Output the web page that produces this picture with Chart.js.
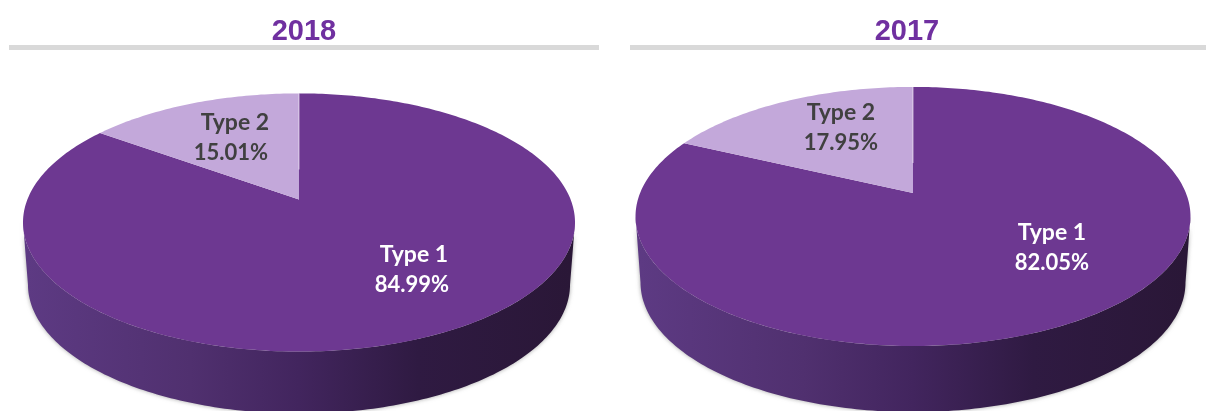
<!DOCTYPE html>
<html>
<head>
<meta charset="utf-8">
<script src="https://cdn.jsdelivr.net/npm/chart.js@4"></script>
<style>
  html, body { margin: 0; padding: 0; background: white; overflow: hidden; }
  #page { position: relative; width: 1206px; height: 411px; overflow: hidden; }
  .head { position: absolute; top: 0; height: 45px; border-bottom: 5px solid #d9d9d9; text-align: center;
    font: bold 29px "Liberation Sans", Arial, sans-serif; line-height: 60px; color: #7030a0; }
  .head.a { left: 9px; width: 590px; }
  .head.b { left: 630px; width: 576px; text-indent: -22px; }
  .box { position: absolute; top: 0; height: 411px; }
  .box.a { left: 0; width: 604px; }
  .box.b { left: 604px; width: 602px; }
</style>
</head>
<body>
<div id="page">
  <div class="box a"><canvas id="pie2018"></canvas></div>
  <div class="box b"><canvas id="pie2017"></canvas></div>
  <div class="head a" id="title2018"></div>
  <div class="head b" id="title2017"></div>
</div>
<script>
const categories = ['Type 1', 'Type 2'];
const values2018 = [84.99, 15.01];
const values2017 = [82.05, 17.95];
const years = ['2018', '2017'];

const sliceColors = ['#6d3891', '#c3a8da'];
const labelColors = ['#ffffff', '#404040'];

// perspective of the tilted disc, in px around the pie centre
function project(el, shape, angle, scale) {
    const u = Math.cos(angle), v = Math.sin(angle);
    const d = 1 - shape.k * v;
    return { x: el.x + scale * shape.b * u / d, y: el.y + shape.a * v / d };
}

function tracePath(ctx, el, shape, from, to, scale, dy) {
    const steps = Math.max(2, Math.ceil(Math.abs(to - from) * 60));
    for (let i = 0; i <= steps; i++) {
        const p = project(el, shape, from + (to - from) * i / steps, scale);
        ctx.lineTo(p.x, p.y + dy);
    }
}

const disc3d = {
    id: 'disc3d',
    beforeDatasetDraw: function (chart, args) {
        const shape = chart.options.plugins.disc3d;
        const arcs = args.meta.data;
        const ctx = chart.ctx;
        const el = arcs[0];
        ctx.save();

        // side wall: lower half of the pushed down face, back along the
        // lower half of the top face. asin(k) is where the ellipse is widest
        const side = Math.asin(shape.k);
        const grad = ctx.createLinearGradient(el.x - shape.b, 0, el.x + shape.b, 0);
        grad.addColorStop(0, '#5d3a83');
        grad.addColorStop(0.3, '#50306f');
        grad.addColorStop(0.5, '#42255e');
        grad.addColorStop(0.72, '#2f1a42');
        grad.addColorStop(1, '#2a1737');
        ctx.beginPath();
        tracePath(ctx, el, shape, side, Math.PI - side, 0.982, shape.depth);
        tracePath(ctx, el, shape, Math.PI - side, side, 1, 0);
        ctx.closePath();
        ctx.shadowColor = 'rgba(90, 90, 90, 0.55)';
        ctx.shadowBlur = 4;
        ctx.fillStyle = grad;
        ctx.fill();
        ctx.shadowColor = 'transparent';
        ctx.shadowBlur = 0;

        // top face, slices from the angles the library worked out
        arcs.forEach(function (arc, i) {
            ctx.beginPath();
            ctx.moveTo(arc.x, arc.y);
            tracePath(ctx, arc, shape, arc.startAngle, arc.endAngle, 1, 0);
            ctx.closePath();
            ctx.fillStyle = sliceColors[i];
            ctx.fill();
        });

        // thin pale seam along the 12 o'clock cut
        ctx.beginPath();
        ctx.moveTo(el.x, el.y - 30);
        const top = project(el, shape, -Math.PI / 2, 1);
        ctx.lineTo(top.x, top.y);
        ctx.strokeStyle = 'rgba(255, 255, 255, 0.6)';
        ctx.lineWidth = 1;
        ctx.stroke();

        // value labels
        const vals = chart.data.datasets[0].data;
        ctx.textAlign = 'center';
        ctx.textBaseline = 'middle';
        arcs.forEach(function (arc, i) {
            const pos = shape.labels[i];
            ctx.fillStyle = labelColors[i];
            ctx.font = 'bold 23px Lato, "Open Sans", sans-serif';
            ctx.fillText(chart.data.labels[i], arc.x + pos[0], arc.y + pos[1]);
            ctx.font = 'bold 22px Lato, "Open Sans", sans-serif';
            ctx.fillText(vals[i].toFixed(2) + '%', arc.x + pos[0] + pos[2], arc.y + pos[1] + 30);
        });
        ctx.restore();
        return false;
    }
};

function makePie(id, values, padding, shape) {
    return new Chart(document.getElementById(id), {
        type: 'pie',
        data: { labels: categories, datasets: [{ data: values, backgroundColor: sliceColors, borderWidth: 0 }] },
        options: {
            responsive: true,
            maintainAspectRatio: false,
            animation: false,
            events: [],
            layout: { padding: padding },
            plugins: { legend: { display: false }, tooltip: { enabled: false }, title: { display: false }, disc3d: shape }
        },
        plugins: [disc3d]
    });
}

document.getElementById('title2018').textContent = years[0];
document.getElementById('title2017').textContent = years[1];

makePie('pie2018', values2018, { right: 6, bottom: 12 },
    { k: 0.178, a: 125, b: 271.6, depth: 62, labels: [[115, 55, -2], [-64, -77, -4]] });
makePie('pie2017', values2017, { left: 16, bottom: 25 },
    { k: 0.181, a: 125.3, b: 272.9, depth: 66, labels: [[139, 40, 0], [-72, -80, 0]] });
</script>
</body>
</html>
